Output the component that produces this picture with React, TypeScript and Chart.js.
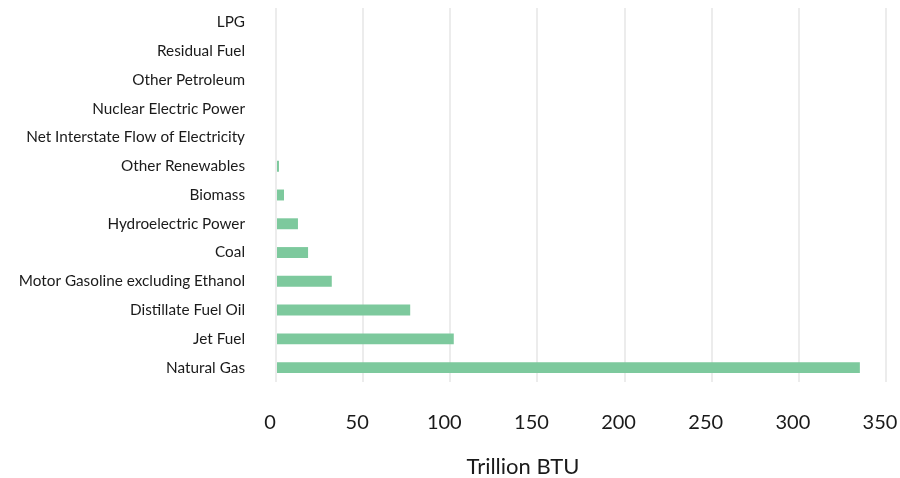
import React, { useEffect, useRef } from "react";
import { Chart, registerables } from "chart.js";

Chart.register(...registerables);

const categories = [
  "LPG",
  "Residual Fuel",
  "Other Petroleum",
  "Nuclear Electric Power",
  "Net Interstate Flow of Electricity",
  "Other Renewables",
  "Biomass",
  "Hydroelectric Power",
  "Coal",
  "Motor Gasoline excluding Ethanol",
  "Distillate Fuel Oil",
  "Jet Fuel",
  "Natural Gas",
];

const values = [0, 0, 0, 0, 0, 1.7, 4.6, 12.6, 18.4, 32, 77, 102, 335];

const xTicks = [0, 50, 100, 150, 200, 250, 300, 350];
const xTitle = "Trillion BTU";

const FONT = "Lato, 'Open Sans', sans-serif";

const axisTitlePlugin = {
  id: "axisTitlePlugin",
  afterDraw(chart: any) {
    const { ctx, chartArea } = chart;
    ctx.save();
    ctx.font = `22px ${FONT}`;
    ctx.fillStyle = "#1a1a1a";
    ctx.textAlign = "center";
    ctx.textBaseline = "middle";
    const x = chartArea.left + (chartArea.right - chartArea.left) * 0.405;
    ctx.fillText(xTitle, x, 467);
    ctx.restore();
  },
};

export default function App() {
  const ref = useRef<HTMLCanvasElement | null>(null);

  useEffect(() => {
    document.body.style.margin = "0";
    const ctx = ref.current!.getContext("2d")!;
    const chart = new Chart(ctx, {
      type: "bar",
      data: {
        labels: categories,
        datasets: [
          {
            data: values,
            backgroundColor: "#7dc99d",
            borderWidth: 0,
            barPercentage: 0.38,
            categoryPercentage: 1,
          },
        ],
      },
      plugins: [axisTitlePlugin],
      options: {
        indexAxis: "y",
        animation: false,
        responsive: false,
        maintainAspectRatio: false,
        layout: { padding: { top: 8, right: 14, bottom: 0, left: 0 } },
        plugins: {
          legend: { display: false },
          tooltip: { enabled: false },
        },
        scales: {
          x: {
            min: 0,
            max: 350,
            afterBuildTicks: (scale: any) => {
              scale.ticks = xTicks.map((v) => ({ value: v }));
            },
            afterFit: (scale: any) => {
              scale.height = 96;
              scale.paddingLeft = 0;
              scale.paddingRight = 0;
              scale.paddingTop = 0;
              scale.paddingBottom = 0;
            },
            grid: {
              color: "#ececec",
              lineWidth: 2,
              drawTicks: false,
            },
            border: { display: false },
            ticks: {
              padding: 29,
              labelOffset: -6,
              maxRotation: 0,
              minRotation: 0,
              color: "#1a1a1a",
              font: { family: FONT, size: 20 },
            },
            title: { display: false },
          },
          y: {
            afterFit: (scale: any) => {
              scale.width = 276;
              scale.paddingLeft = 0;
              scale.paddingRight = 0;
              scale.paddingTop = 0;
              scale.paddingBottom = 0;
            },
            grid: { display: false, drawTicks: false },
            border: { display: false },
            ticks: {
              padding: 31,
              color: "#1a1a1a",
              font: { family: FONT, size: 15.3 },
              autoSkip: false,
            },
          },
        },
      },
    });
    return () => chart.destroy();
  }, []);

  return (
    <div style={{ width: 900, height: 478 }}>
      <canvas ref={ref} width={900} height={478} style={{ display: "block" }} />
    </div>
  );
}
